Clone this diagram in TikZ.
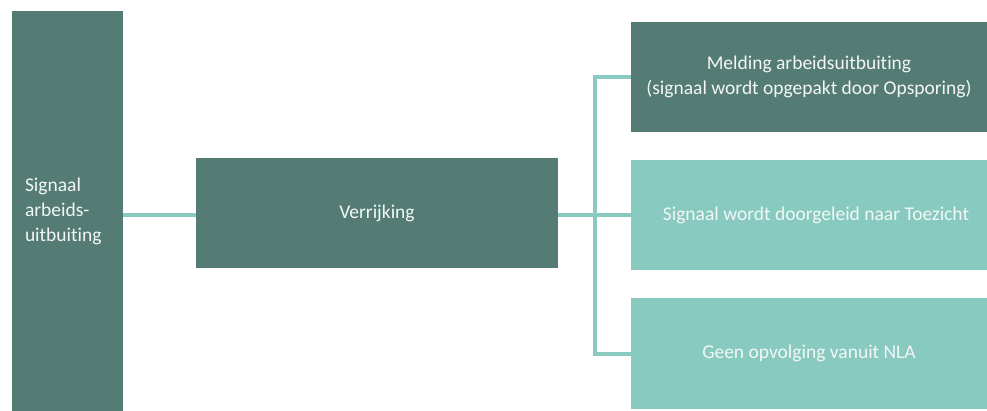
\documentclass[tikz,border=0pt]{standalone}
\usepackage{fontspec}
\setmainfont{Carlito}[Ligatures=NoCommon]
\definecolor{darkteal}{HTML}{547B74}
\definecolor{lightteal}{HTML}{88CABF}
\definecolor{boxtext}{HTML}{F2F7F5}
\tikzset{
  darkbox/.style={fill=darkteal, text=boxtext, align=center, inner sep=0pt},
  lightbox/.style={fill=lightteal, text=boxtext, align=center, inner sep=0pt},
  link/.style={draw=lightteal, line width=4pt}
}
\begin{document}
\begin{tikzpicture}[x=1pt, y=-1pt, font=\fontsize{19.5}{25}\selectfont]
      \useasboundingbox (0,0) rectangle (987,411);
      \node[darkbox, align=left, text width=85pt, inner xsep=13pt, minimum height=400pt] (signaal) at (67.5,211) {Signaal\\arbeids-\\uitbuiting};
      \node[darkbox, minimum width=362pt, minimum height=110pt] (verrijking) at (377,213) {Verrijking};
      \node[darkbox, minimum width=356pt, minimum height=110pt] (melding) at (809,77) {Melding arbeidsuitbuiting\\(signaal wordt opgepakt door Opsporing)};
      \node[lightbox, minimum width=356pt, minimum height=110pt] (toezicht) at (809,215) {\hspace*{14pt}Signaal wordt doorgeleid naar Toezicht};
      \node[lightbox, minimum width=356pt, minimum height=111pt] (geen) at (809,353.5) {Geen opvolging vanuit NLA};
      \coordinate (fork) at (595,215);
      \begin{scope}[link]
        \draw (signaal.east |- 0,215) -- (verrijking.west |- 0,215);
        \draw (verrijking.east |- fork) -- (toezicht.west);
        \draw (melding.west) -| (fork) |- (geen.west);
      \end{scope}
    \end{tikzpicture}
\end{document}
